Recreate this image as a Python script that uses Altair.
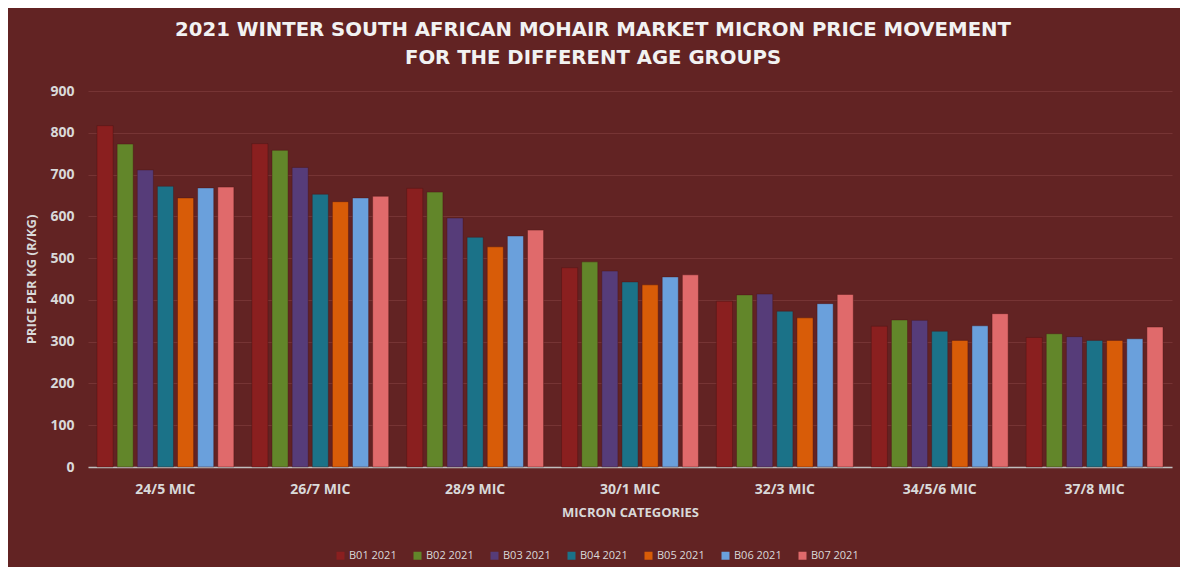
import altair as alt
import pandas as pd

categories = ["24/5 MIC", "26/7 MIC", "28/9 MIC", "30/1 MIC", "32/3 MIC", "34/5/6 MIC", "37/8 MIC"]
series = ["B01 2021", "B02 2021", "B03 2021", "B04 2021", "B05 2021", "B06 2021", "B07 2021"]
b01 = [817, 774, 667, 477, 397, 337, 310]
b02 = [773, 758, 658, 491, 412, 352, 319]
b03 = [711, 717, 596, 469, 414, 351, 312]
b04 = [672, 653, 550, 443, 373, 325, 303]
b05 = [644, 635, 527, 436, 357, 303, 303]
b06 = [668, 644, 553, 455, 391, 338, 307]
b07 = [670, 648, 567, 460, 413, 367, 335]
colors = ["#8a1f1f", "#62862a", "#563c79", "#1b7288", "#d85c08", "#6aa0dc", "#e06a6b"]

rows = []
for s, vals in zip(series, [b01, b02, b03, b04, b05, b06, b07]):
    for c, v in zip(categories, vals):
        rows.append({"cat": c, "series": s, "value": v})
df = pd.DataFrame(rows)

bg = "#622323"
txt = "#d9d9d9"
font = "Open Sans"

chart = alt.Chart(df).mark_bar(stroke="#4a1414", strokeWidth=0.6, strokeOpacity=0.7).encode(
    x=alt.X("cat:N", sort=categories, scale=alt.Scale(paddingInner=0.09, paddingOuter=0.045),
            axis=alt.Axis(title="MICRON CATEGORIES", labelAngle=0, ticks=False, domainColor="#bfbfbf",
                          domainWidth=1.5, labelColor=txt, labelFont=font, labelFontSize=14,
                          labelFontWeight="bold", labelPadding=15, titleColor=txt, titleFont=font,
                          titleFontSize=13, titleFontWeight="bold", titlePadding=10, grid=False)),
    xOffset=alt.XOffset("series:N", sort=series, scale=alt.Scale(paddingInner=0.2, paddingOuter=0.1)),
    y=alt.Y("value:Q", scale=alt.Scale(domain=[0, 900]),
            axis=alt.Axis(title="PRICE PER KG (R/KG)", values=list(range(0, 901, 100)), ticks=False,
                          domain=False, gridColor="#763434", gridWidth=1, labelColor=txt, labelFont=font,
                          labelFontSize=14, labelFontWeight="bold", labelPadding=14, titleColor=txt,
                          titleFont=font, titleFontSize=13, titleFontWeight="bold", titlePadding=11)),
    color=alt.Color("series:N", sort=series, scale=alt.Scale(domain=series, range=colors),
                    legend=alt.Legend(title=None, orient="none", direction="horizontal", legendX=247,
                                      legendY=459, symbolType="square", symbolSize=64, symbolStrokeWidth=0,
                                      labelColor=txt, labelFont=font, labelFontSize=11, columnPadding=15,
                                      labelOffset=3)),
).properties(
    width=1084,
    height=376,
    background=bg,
    padding={"left": 80, "top": 83, "right": 8, "bottom": 100},
    autosize=alt.AutoSizeParams(type="none"),
    title=alt.TitleParams(
        text=["2021 WINTER SOUTH AFRICAN MOHAIR MARKET MICRON PRICE MOVEMENT", "FOR THE DIFFERENT AGE GROUPS"],
        color="#f2f2f2", font="DejaVu Sans", fontSize=19.7, fontWeight="bold", anchor="middle", offset=16,
        lineHeight=28, dx=-37,
    ),
).configure_view(stroke=None)

chart.save("out.html", embed_options={"renderer": "svg", "actions": False})
